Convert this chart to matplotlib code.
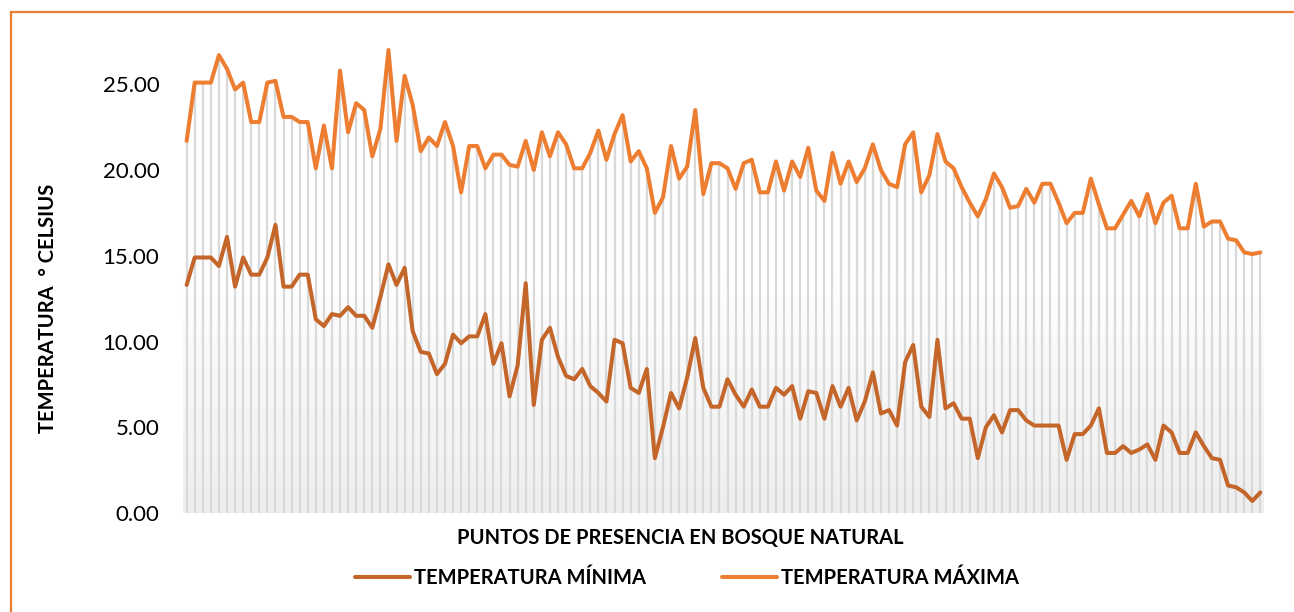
import numpy as np
import matplotlib
matplotlib.use("Agg")
import matplotlib.pyplot as plt
from matplotlib.patches import Rectangle
from matplotlib.colors import LinearSegmentedColormap

# Temperatures, one value per presence point
temp_max = [
    21.7, 25.1, 25.1, 25.1, 26.7, 25.9, 24.7, 25.1, 22.8, 22.8,
    25.1, 25.2, 23.1, 23.1, 22.8, 22.8, 20.1, 22.6, 20.1, 25.8,
    22.2, 23.9, 23.5, 20.8, 22.4, 27.0, 21.7, 25.5, 23.8, 21.1,
    21.9, 21.4, 22.8, 21.4, 18.7, 21.4, 21.4, 20.1, 20.9, 20.9,
    20.3, 20.2, 21.7, 20.0, 22.2, 20.8, 22.2, 21.5, 20.1, 20.1,
    21.0, 22.3, 20.6, 22.1, 23.2, 20.5, 21.1, 20.1, 17.5, 18.4,
    21.4, 19.5, 20.2, 23.5, 18.6, 20.4, 20.4, 20.1, 18.9, 20.4,
    20.6, 18.7, 18.7, 20.5, 18.8, 20.5, 19.6, 21.3, 18.8, 18.2,
    21.0, 19.2, 20.5, 19.3, 20.1, 21.5, 20.0, 19.2, 19.0, 21.5,
    22.2, 18.7, 19.7, 22.1, 20.5, 20.1, 19.0, 18.1, 17.3, 18.3,
    19.8, 19.0, 17.8, 17.9, 18.9, 18.1, 19.2, 19.2, 18.1, 16.9,
    17.5, 17.5, 19.5, 18.0, 16.6, 16.6, 17.4, 18.2, 17.3, 18.6,
    16.9, 18.1, 18.5, 16.6, 16.6, 19.2, 16.7, 17.0, 17.0, 16.0,
    15.9, 15.2, 15.1, 15.2,
]
temp_min = [
    13.3, 14.9, 14.9, 14.9, 14.4, 16.1, 13.2, 14.9, 13.9, 13.9,
    14.9, 16.8, 13.2, 13.2, 13.9, 13.9, 11.3, 10.9, 11.6, 11.5,
    12.0, 11.5, 11.5, 10.8, 12.6, 14.5, 13.3, 14.3, 10.6, 9.4,
    9.3, 8.1, 8.7, 10.4, 9.9, 10.3, 10.3, 11.6, 8.7, 9.9,
    6.8, 8.6, 13.4, 6.3, 10.1, 10.8, 9.1, 8.0, 7.8, 8.4,
    7.4, 7.0, 6.5, 10.1, 9.9, 7.3, 7.0, 8.4, 3.2, 5.0,
    7.0, 6.1, 7.9, 10.2, 7.3, 6.2, 6.2, 7.8, 6.9, 6.2,
    7.2, 6.2, 6.2, 7.3, 6.9, 7.4, 5.5, 7.1, 7.0, 5.5,
    7.4, 6.2, 7.3, 5.4, 6.5, 8.2, 5.8, 6.0, 5.1, 8.8,
    9.8, 6.2, 5.6, 10.1, 6.1, 6.4, 5.5, 5.5, 3.2, 5.0,
    5.7, 4.7, 6.0, 6.0, 5.4, 5.1, 5.1, 5.1, 5.1, 3.1,
    4.6, 4.6, 5.1, 6.1, 3.5, 3.5, 3.9, 3.5, 3.7, 4.0,
    3.1, 5.1, 4.7, 3.5, 3.5, 4.7, 3.9, 3.2, 3.1, 1.6,
    1.5, 1.2, 0.7, 1.2,
]
y_ticks = [0, 5, 10, 15, 20, 25]

label_min = "TEMPERATURA MÍNIMA"
label_max = "TEMPERATURA MÁXIMA"
x_title = "PUNTOS DE PRESENCIA EN BOSQUE NATURAL"
y_title = "TEMPERATURA  ° CELSIUS"

COLOR_MAX = "#ED7D31"
COLOR_MIN = "#C4652A"
BORDER = "#ED7D31"


def plot_chart():
    plt.rcParams["font.family"] = ["Lato", "DejaVu Sans"]

    fig = plt.figure(figsize=(12.94, 6.12), dpi=100)
    ax = fig.add_axes([183 / 1294, 1 - 513 / 612, 1081 / 1294, 475 / 612])

    x = np.arange(len(temp_max))

    # Soft white-to-grey fill behind the plot area
    grad = np.linspace(0, 1, 256).reshape(-1, 1)
    cmap = LinearSegmentedColormap.from_list("bg", ["#ffffff", "#ffffff", "#eeeeee"])
    ax.imshow(grad, aspect="auto", cmap=cmap, extent=[0, 1, 0, 1],
              transform=ax.transAxes, zorder=0)

    # Drop lines from the highest series down to the axis
    ax.vlines(x, 0, np.maximum(temp_max, temp_min), color="#d9d9d9", lw=1.6, zorder=1)

    ax.plot(x, temp_min, color=COLOR_MIN, lw=2.9, label=label_min, zorder=3,
            solid_joinstyle="round", solid_capstyle="round")
    ax.plot(x, temp_max, color=COLOR_MAX, lw=2.9, label=label_max, zorder=3,
            solid_joinstyle="round", solid_capstyle="round")

    ax.set_xlim(-0.45, len(x) - 0.55)
    ax.set_ylim(0, 27.7)
    ax.set_yticks(y_ticks)
    ax.set_yticklabels([f"{v:.2f}" for v in y_ticks], fontsize=16)
    ax.tick_params(axis="y", length=0, pad=17)
    ax.set_xticks([])
    for side in ax.spines:
        ax.spines[side].set_visible(False)

    fig.text(680 / 1294, 1 - 538 / 612, x_title, ha="center", va="center",
             fontsize=14.5, fontweight="bold")
    fig.text(48 / 1294, 1 - 308 / 612, y_title, ha="center", va="center",
             rotation=90, fontsize=14.5, fontweight="bold")

    fig.legend(loc="center", bbox_to_anchor=(687 / 1294, 1 - 578 / 612), ncol=2,
               frameon=False, prop={"weight": "bold", "size": 14.5},
               handlelength=2.7, handletextpad=0.2, columnspacing=3.8)

    # Orange chart-area frame (runs off the right and bottom edges)
    fig.patches.append(Rectangle((11 / 1294, -0.1), 1.2, 1 - 12 / 612 + 0.1,
                                 transform=fig.transFigure, fill=False,
                                 edgecolor=BORDER, lw=1.6))

    fig.savefig("out.png", dpi=100)
    plt.close(fig)


if __name__ == "__main__":
    plot_chart()
